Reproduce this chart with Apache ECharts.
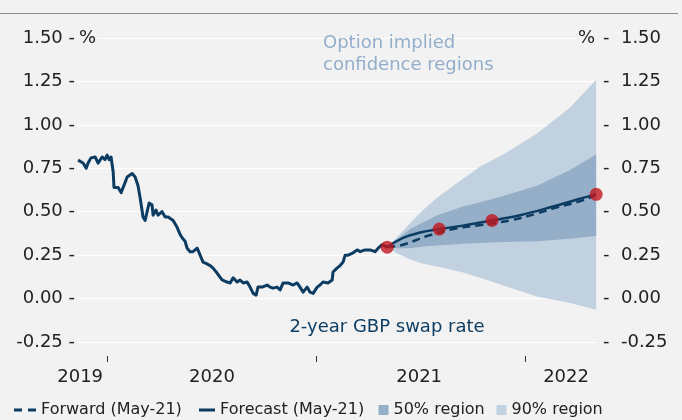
<!DOCTYPE html>
<html><head><meta charset="utf-8">
<script src="https://cdn.jsdelivr.net/npm/echarts@6/dist/echarts.min.js"></script>
<style>html,body{margin:0;padding:0;background:#f2f2f2}#c{width:682px;height:420px}</style>
</head><body><div id="c"></div>
<script>
// ---------- data ----------
const X_MIN = 2019.856, X_MAX = 2022.344;           // x-axis range (fractional years)
const yearTicks = [2020, 2021, 2022];               // tick marks (year boundaries)
const yearLabels = ['2019', '2020', '2021', '2022'];
const yearLabelPos = [2019.871, 2020.502, 2021.493, 2022.196];
const yTickValues = [-0.25, 0, 0.25, 0.5, 0.75, 1.0, 1.25, 1.5];

// 2-year GBP swap rate (history)
const histT = [2019.861,2019.885,2019.900,2019.909,2019.923,2019.943,2019.957,2019.976,2019.990,2020.000,
2020.010,2020.019,2020.029,2020.033,2020.053,2020.067,2020.077,2020.096,2020.105,2020.120,
2020.134,2020.148,2020.158,2020.172,2020.182,2020.191,2020.201,2020.215,2020.220,2020.234,
2020.244,2020.263,2020.278,2020.292,2020.316,2020.335,2020.349,2020.359,2020.373,2020.383,
2020.397,2020.411,2020.431,2020.445,2020.459,2020.478,2020.493,2020.507,2020.526,2020.550,
2020.574,2020.589,2020.603,2020.622,2020.636,2020.651,2020.670,2020.684,2020.699,2020.713,
2020.722,2020.742,2020.766,2020.780,2020.794,2020.813,2020.828,2020.842,2020.866,2020.890,
2020.909,2020.923,2020.938,2020.957,2020.971,2020.986,2021.005,2021.019,2021.033,2021.057,
2021.077,2021.081,2021.100,2021.115,2021.129,2021.139,2021.153,2021.172,2021.196,2021.211,
2021.234,2021.258,2021.282,2021.297,2021.316,2021.340];
const histV = [0.797,0.78,0.75,0.78,0.81,0.815,0.78,0.815,0.80,0.826,
0.80,0.815,0.73,0.64,0.64,0.61,0.64,0.70,0.69,0.72,
0.70,0.65,0.58,0.47,0.45,0.44,0.55,0.54,0.48,0.51,
0.48,0.50,0.47,0.47,0.45,0.41,0.37,0.35,0.33,0.29,
0.27,0.27,0.29,0.25,0.21,0.20,0.19,0.175,0.147,0.107,
0.095,0.09,0.12,0.095,0.107,0.09,0.095,0.066,0.03,0.02,
0.066,0.066,0.078,0.066,0.06,0.066,0.05,0.09,0.09,0.078,
0.09,0.066,0.037,0.066,0.037,0.03,0.066,0.078,0.095,0.09,
0.107,0.153,0.175,0.19,0.21,0.25,0.25,0.26,0.28,0.27,
0.28,0.28,0.27,0.29,0.31,0.296];

// Forecast (May-21)
const fcT = [2021.340,2021.416,2021.498,2021.589,2021.703,2021.842,2021.976,2022.134,2022.249,2022.340];
const fcV = [0.296,0.35,0.38,0.40,0.42,0.45,0.48,0.53,0.57,0.60];
// Forward (May-21)
const fwT = [2021.340,2021.416,2021.531,2021.675,2021.770,2021.928,2022.057,2022.153,2022.249,2022.330];
const fwV = [0.296,0.31,0.36,0.405,0.42,0.45,0.49,0.525,0.555,0.59];
// forecast horizon points
const dotT = [2021.340, 2021.589, 2021.842, 2022.340];
const dotV = [0.296, 0.40, 0.45, 0.60];

// option implied confidence regions
const fanT = [2021.340,2021.388,2021.450,2021.512,2021.579,2021.703,2021.785,2021.895,2022.057,2022.215,2022.340];
const hi90 = [0.296,0.355,0.435,0.51,0.58,0.69,0.76,0.83,0.95,1.10,1.26];
const hi50 = [0.296,0.34,0.40,0.44,0.48,0.53,0.555,0.59,0.65,0.74,0.83];
const lo50 = [0.296,0.29,0.29,0.30,0.305,0.315,0.32,0.325,0.33,0.345,0.36];
const lo90 = [0.296,0.26,0.225,0.20,0.185,0.15,0.12,0.075,0.012,-0.025,-0.065];

// ---------- styling ----------
const FONT = 'DejaVu Sans';
const NAVY = '#0c3c62';
const RED = '#c0161d';
const C90 = '#c2d1e0';
const C50 = '#95afc8';
const TXT = '#222222';
const BG = '#f2f2f2';

const pairs = (ts, vs) => ts.map((t, i) => [t, vs[i]]);
const nearestLabel = v => {
  let best = 0;
  yearLabelPos.forEach((p, i) => { if (Math.abs(p - v) < Math.abs(yearLabelPos[best] - v)) best = i; });
  return yearLabels[best];
};

// band polygon drawn through the cartesian scales
const bandSeries = (name, hi, lo, color) => ({
  type: 'custom', name: name, color: color, coordinateSystem: 'cartesian2d', silent: true, z: 1,
  data: [[fanT[0], hi[0]]],
  renderItem: (params, api) => {
    const upper = fanT.map((t, i) => api.coord([t, hi[i]]));
    const lower = fanT.map((t, i) => api.coord([t, lo[i]])).reverse();
    return { type: 'polygon', shape: { points: upper.concat(lower) }, style: { fill: color } };
  }
});

const legendBase = {
  orient: 'horizontal', top: 402, padding: 0, itemGap: 0,
  textStyle: { fontFamily: FONT, fontSize: 16, color: TXT }
};

const option = {
  animation: false,
  backgroundColor: BG,
  grid: { left: 77, right: 85, top: 38, bottom: 78, outerBoundsMode: 'none' },
  xAxis: {
    type: 'value', min: X_MIN, max: X_MAX, offset: 14,
    axisLine: { show: false, onZero: false },
    splitLine: { show: false },
    axisTick: { show: true, customValues: yearTicks, length: 6, lineStyle: { color: '#333', width: 1 } },
    axisLabel: { customValues: yearLabelPos, formatter: v => nearestLabel(v), margin: 12,
      fontFamily: FONT, fontSize: 18, color: TXT }
  },
  yAxis: [{
    type: 'value', min: -0.25, max: 1.5, interval: 0.25, position: 'left',
    axisLine: { show: false }, axisTick: { show: false },
    splitLine: { show: true, lineStyle: { color: '#ffffff', width: 1 } },
    axisLabel: { customValues: yTickValues, formatter: v => v.toFixed(2) + ' -', margin: 2,
      fontFamily: FONT, fontSize: 18, color: TXT }
  }, {
    type: 'value', min: -0.25, max: 1.5, interval: 0.25, position: 'right',
    axisLine: { show: false }, axisTick: { show: false }, splitLine: { show: false },
    axisLabel: { customValues: yTickValues, formatter: v => '-  ' + v.toFixed(2), margin: 6,
      fontFamily: FONT, fontSize: 18, color: TXT }
  }],
  legend: [
    Object.assign({}, legendBase, { left: 14, itemWidth: 22, itemHeight: 3,
      data: [{ name: 'Forward (May-21)', icon: 'path://M0,0H8V3H0Z M14,0H22V3H14Z', itemStyle: { color: NAVY } }] }),
    Object.assign({}, legendBase, { left: 199, itemWidth: 16, itemHeight: 3,
      data: [{ name: 'Forecast (May-21)', icon: 'rect', itemStyle: { color: NAVY } }] }),
    Object.assign({}, legendBase, { left: 378.5, itemWidth: 10, itemHeight: 10,
      data: [{ name: '50% region', icon: 'rect', itemStyle: { color: C50 } }] }),
    Object.assign({}, legendBase, { left: 496.5, itemWidth: 10, itemHeight: 10,
      data: [{ name: '90% region', icon: 'rect', itemStyle: { color: C90 } }] })
  ],
  graphic: [
    { type: 'line', z: 100, shape: { x1: 0, y1: 13.5, x2: 678, y2: 13.5 }, style: { stroke: '#8a8a8a', lineWidth: 1 } },
    { type: 'text', z: 100, x: 78, y: 38, style: { text: '%', fill: TXT, font: '18px "DejaVu Sans"',
      align: 'left', textAlign: 'left', verticalAlign: 'middle', textVerticalAlign: 'middle',
      backgroundColor: BG, padding: [2, 2, 2, 1] } },
    { type: 'text', z: 100, x: 596, y: 38, style: { text: '%', fill: TXT, font: '18px "DejaVu Sans"',
      align: 'right', textAlign: 'right', verticalAlign: 'middle', textVerticalAlign: 'middle',
      backgroundColor: BG, padding: [2, 1, 2, 2] } },
    { type: 'text', z: 100, x: 323, y: 32, style: { text: 'Option implied\nconfidence regions', fill: '#92aecb',
      font: '18px "DejaVu Sans"', lineHeight: 22.5, align: 'left', textAlign: 'left',
      verticalAlign: 'top', textVerticalAlign: 'top' } },
    { type: 'text', z: 100, x: 387, y: 327, style: { text: '2-year GBP swap rate', fill: '#0e3e63',
      font: '18px "DejaVu Sans"', align: 'center', textAlign: 'center',
      verticalAlign: 'middle', textVerticalAlign: 'middle' } }
  ],
  series: [
    bandSeries('90% region', hi90, lo90, C90),
    bandSeries('50% region', hi50, lo50, C50),
    { type: 'line', name: 'history', data: pairs(histT, histV), symbol: 'none', color: NAVY,
      lineStyle: { color: NAVY, width: 3, join: 'round' }, z: 5 },
    { type: 'line', name: 'Forward (May-21)', data: pairs(fwT, fwV), symbol: 'none', smooth: 0.4, color: NAVY,
      lineStyle: { color: NAVY, width: 2.5, type: [8, 5] }, z: 6 },
    { type: 'line', name: 'Forecast (May-21)', data: pairs(fcT, fcV), symbol: 'none', smooth: 0.4, color: NAVY,
      lineStyle: { color: NAVY, width: 2.5 }, z: 6 },
    { type: 'scatter', name: 'points', data: pairs(dotT, dotV), symbolSize: 13,
      itemStyle: { color: RED }, z: 10 }
  ]
};

const chart = echarts.init(document.getElementById('c'), null, { renderer: 'canvas' });
chart.setOption(option);
</script>
</body></html>
